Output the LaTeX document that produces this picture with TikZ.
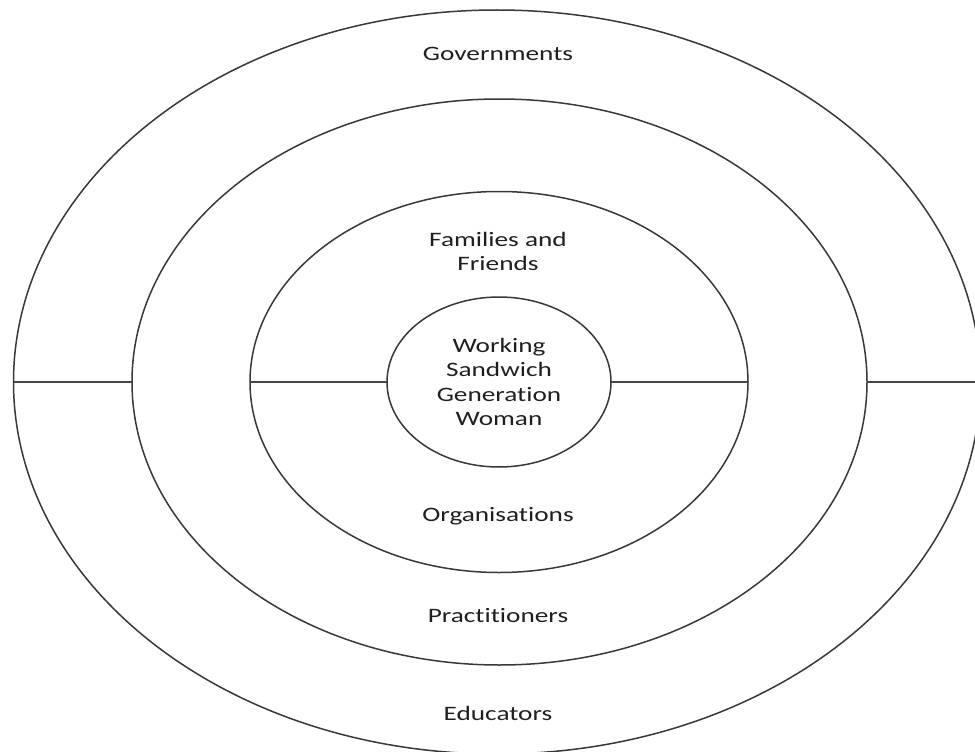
\documentclass[tikz,border=0pt]{standalone}
\usepackage{fontspec}
\setmainfont{Carlito}[FakeStretch=1.33,Ligatures=NoCommon]
\usetikzlibrary{shapes.geometric, positioning}

\begin{document}
\begin{tikzpicture}[x=1pt,y=-1pt,line width=1.5pt]
  \tikzstyle{ring}=[ellipse,draw=black!78,inner sep=0pt,outer sep=0pt]
  \tikzstyle{lbl}=[inner sep=0pt,align=center,text=black!88,
                   font=\fontsize{20.5}{24.5}\selectfont]
  \tikzstyle{link}=[draw=black!72,line width=1.2pt]
  \useasboundingbox (0,0) rectangle (975,752);
  \clip (0,0) rectangle (975,752);
  \node[ring,minimum width=967pt,minimum height=744pt] (govring) at (497,382) {};
  \node[ring,minimum width=735pt,minimum height=566pt] (pracring) at (499.5,382) {};
  \node[ring,minimum width=498pt,minimum height=381pt] (orgring) at (499,382) {};
  \node[ring,minimum width=224pt,minimum height=170pt] (woman) at (499,382) {};
  \coordinate (rightend) at (975,382);
  \path[link] (govring.west) -- (pracring.west)
              (pracring.east) -- (rightend)
              (orgring.west) -- (woman.west)
              (woman.east) -- (orgring.east);
  \node[lbl,anchor=base] (gov) at (498,61) {Governments};
  \node[lbl] (fam) at (498,251.5) {Families and\\Friends};
  \node[lbl] (wsgw) at (499,382) {Working\\Sandwich\\Generation\\Woman};
  \node[lbl,anchor=base] (org) at (498,521.7) {Organisations};
  \node[lbl,anchor=base] (prac) at (498,622.7) {Practitioners};
  \node[lbl,anchor=base] (edu) at (498,720.7) {Educators};
\end{tikzpicture}
\end{document}
